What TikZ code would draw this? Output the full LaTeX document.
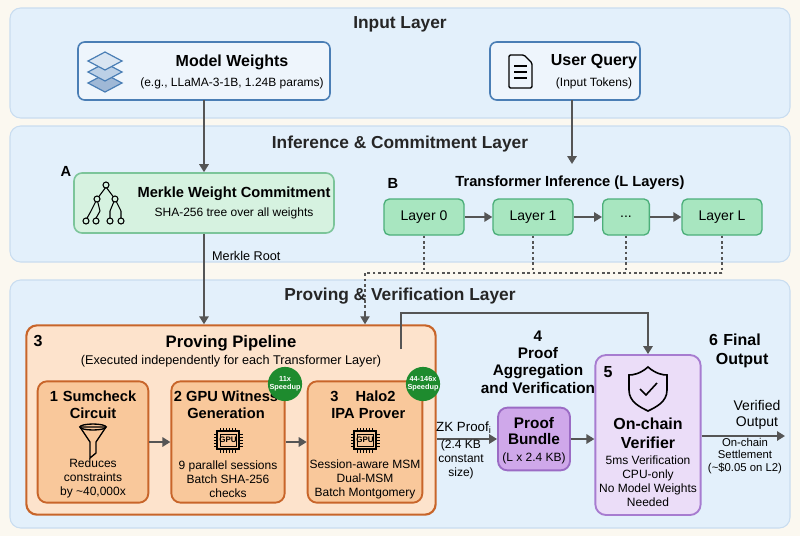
\documentclass[tikz,border=0pt]{standalone}
\usepackage{fontspec}
\setmainfont{Liberation Sans}
\usetikzlibrary{arrows.meta,positioning}
\definecolor{bgc}{HTML}{FBF8F0}
\definecolor{panf}{HTML}{E3F0FB}
\definecolor{pand}{HTML}{C9DDF0}
\definecolor{inf}{HTML}{EEF5FC}
\definecolor{ind}{HTML}{4A7EB5}
\definecolor{lay1}{HTML}{9FB8D6}
\definecolor{lay2}{HTML}{BCD0E6}
\definecolor{lay3}{HTML}{D9E5F2}
\definecolor{grf}{HTML}{D6F2E0}
\definecolor{grd}{HTML}{7CC59A}
\definecolor{lyf}{HTML}{A8E6C0}
\definecolor{lyd}{HTML}{4CAF7A}
\definecolor{orf}{HTML}{FDE3CC}
\definecolor{ord}{HTML}{C8652A}
\definecolor{osf}{HTML}{F9C89B}
\definecolor{puf}{HTML}{CFA8EA}
\definecolor{pud}{HTML}{9B6BC4}
\definecolor{vef}{HTML}{EBDDF8}
\definecolor{vedd}{HTML}{A77CD0}
\definecolor{spd}{HTML}{1E8B2E}
\definecolor{arr}{HTML}{555555}
\tikzset{
 panel/.style={draw=pand,fill=panf,rounded corners=8pt,line width=0.8pt},
 ptitle/.style={font=\bfseries\fontsize{13}{15}\selectfont,text=black!85},
 conn/.style={draw=arr,line width=1.6pt,-{Triangle[length=6pt,width=7pt]}},
 dconn/.style={draw=arr,line width=1pt,dash pattern=on 2pt off 2pt},
 inbox/.style={draw=ind,fill=inf,rounded corners=5pt,line width=1.2pt},
 layer/.style={draw=lyd,fill=lyf,rounded corners=4pt,line width=1pt,minimum width=60pt,minimum height=27pt,font=\fontsize{10.5}{12}\selectfont},
 sub/.style={draw=ord,fill=osf,rounded corners=7pt,line width=1.4pt},
 speed/.style={circle,fill=spd,text=white,inner sep=0pt,minimum size=21pt,align=center,font=\bfseries\fontsize{5.5}{6}\selectfont},
 lbl/.style={align=center,font=\fontsize{9}{10.5}\selectfont},
 hd/.style={align=center,font=\bfseries\fontsize{11}{12.5}\selectfont},
 gpu/.pic={
  \draw[line width=0.9pt,fill=osf] (-11,-9) rectangle (11,9);
  \draw[line width=0.7pt] (-8,-6) rectangle (8,6);
  \node[font=\bfseries\fontsize{6}{6}\selectfont] at (0,0) {GPU};
  \foreach \i in {-7.5,-4.5,-1.5,1.5,4.5,7.5}{\draw[line width=0.6pt] (\i,-9)--(\i,-12.5) (\i,9)--(\i,12.5);}
  \foreach \i in {-6,-3,0,3,6}{\draw[line width=0.6pt] (-11,\i)--(-14.5,\i) (11,\i)--(14.5,\i);}
 }
}
\begin{document}
\begin{tikzpicture}[x=0.75pt,y=-0.75pt]
\fill[bgc] (0,0) rectangle (800,536);
\useasboundingbox (0,0) rectangle (800,536);
% panels
\path[panel] (10,8) rectangle (790,118);
\path[panel] (10,126) rectangle (790,262);
\path[panel] (10,280) rectangle (790,528);
\node[ptitle] (t1) at (400,24) {Input Layer};
\node[ptitle] (t2) at (400,144) {Inference \& Commitment Layer};
\node[ptitle] (t3) at (400,296) {Proving \& Verification Layer};
% input boxes
\path[inbox] (78,42) rectangle (330,100);
\coordinate (mwb) at (204,100);
\node[font=\bfseries\fontsize{12}{14}\selectfont] (mwt) at (232,62) {Model Weights};
\node[font=\fontsize{9}{10}\selectfont] (mws) at (232,83) {(e.g., LLaMA-3-1B, 1.24B params)};
\foreach \dy/\c in {11/lay1,0/lay2,-11/lay3}{
 \draw[ind,line width=0.9pt,fill=\c] (105,72+\dy-9)--(122,72+\dy)--(105,72+\dy+9)--(88,72+\dy)--cycle;}
\path[inbox] (490,42) rectangle (640,100);
\coordinate (uqb) at (572,100);
\node[font=\bfseries\fontsize{12}{14}\selectfont] (uqt) at (594,62) {User Query};
\node[font=\fontsize{9}{10}\selectfont] (uqs) at (594,83) {(Input Tokens)};
\draw[line width=1pt,rounded corners=1pt] (509,55)--(524,55)--(532,63)--(532,88)--(509,88)--cycle;
\draw[line width=0.8pt] (514,66)--(527,66) (514,72)--(527,72) (514,78)--(527,78);
% merkle
\node[draw=grd,fill=grf,rounded corners=6pt,line width=1.2pt,minimum width=195pt,minimum height=45pt] (mk) at (204,203) {};
\node[font=\bfseries\fontsize{11}{12}\selectfont] (lA) at (66,171) {A};
\node[font=\bfseries\fontsize{11}{12}\selectfont] (mkt) at (234,194) {Merkle Weight Commitment};
\node[font=\fontsize{9}{10}\selectfont] (mks) at (234,213) {SHA-256 tree over all weights};
\begin{scope}[line width=0.8pt]
\draw (106,187)--(97,199) (106,187)--(115,199) (97,199)--(91,211) (97,199)--(100,211) (115,199)--(110,211) (115,199)--(121,211);
\draw (91,211)--(86,220) (100,211)--(95,220) (110,211)--(110,220) (121,211)--(121,220);
\foreach \p in {(106,185),(97,199),(115,199)} \filldraw[fill=grf] \p circle (3);
\foreach \p in {(86,221),(96,221),(110,221),(121,221)} \filldraw[fill=grf] \p circle (3);
\end{scope}
% transformer
\node[font=\bfseries\fontsize{11}{12}\selectfont] (lB) at (393,183) {B};
\node[font=\bfseries\fontsize{11}{12.5}\selectfont] (trt) at (570,183) {Transformer Inference (L Layers)};
\node[layer] (L0) at (424,217) {Layer 0};
\node[layer] (L1) at (533,217) {Layer 1};
\node[layer,minimum width=35pt] (Ld) at (626,217) {...};
\node[layer] (LL) at (722,217) {Layer L};
\draw[conn,line width=1.4pt] (L0)--(L1);
\draw[conn,line width=1.4pt] (L1)--(Ld);
\draw[conn,line width=1.4pt] (Ld)--(LL);
% pipeline
\node[draw=ord,fill=orf,rounded corners=8pt,line width=1.6pt,minimum width=307pt,minimum height=142pt] (pp) at (231,420) {};
\node[font=\bfseries\fontsize{12}{13}\selectfont] (p3) at (38,341) {3};
\node[font=\bfseries\fontsize{12.5}{14}\selectfont] (ppt) at (231,343) {Proving Pipeline};
\node[font=\fontsize{9.5}{11}\selectfont] (pps) at (231,361) {(Executed independently for each Transformer Layer)};
\node[sub,minimum width=83pt,minimum height=91pt] (s1) at (93,442) {};
\node[sub,minimum width=85pt,minimum height=91pt] (s2) at (228,442) {};
\node[sub,minimum width=86pt,minimum height=91pt] (s3) at (365,442) {};
\node[hd] (s1t) at (93,405) {1\,\,Sumcheck\\Circuit};
\node[hd] (s2t) at (226,405) {2 GPU Witness\\Generation};
\node[hd] (s3t) at (363,405) {3\quad\,Halo2\\\phantom{3}\,IPA Prover};
\draw[line width=1pt,fill=osf] (80,427)--(106,427)--(96,442)--(96,453)--(90,458)--(90,442)--cycle;
\draw[line width=1pt] (93,427) ellipse (13 and 3);
\pic at (228,440) {gpu};
\pic at (365,440) {gpu};
\node[lbl] (s1x) at (93,478) {Reduces\\constraints\\by \textasciitilde40,000x};
\node[lbl] (s2x) at (228,479) {9 parallel sessions\\Batch SHA-256\\checks};
\node[lbl] (s3x) at (365,479) {Session-aware MSM\\Dual-MSM\\Batch Montgomery};
\node[speed] (sp2) at (285,384) {11x\\Speedup};
\node[speed] (sp3) at (423,384) {44-146x\\Speedup};
\draw[conn] (s1)--(s2);
\draw[conn] (s2)--(s3);
% proof bundle
\node[draw=pud,fill=puf,rounded corners=7pt,line width=1.4pt,minimum width=54pt,minimum height=47pt] (pb) at (534,439) {};
\node[font=\bfseries\fontsize{11.5}{12.5}\selectfont,align=center] (pbt) at (534,431) {Proof\\Bundle};
\node[font=\fontsize{9}{10}\selectfont] (pbs) at (534,458) {(L x 2.4 KB)};
\node[hd,font=\bfseries\fontsize{11.5}{13}\selectfont] (agg) at (538,362) {4\\Proof\\Aggregation\\and Verification};
% verifier
\node[draw=vedd,fill=vef,rounded corners=8pt,line width=1.4pt,minimum width=79pt,minimum height=120pt] (ve) at (648,435) {};
\node[font=\bfseries\fontsize{12}{13}\selectfont] (v5) at (608,372) {5};
\draw[line width=1.2pt] (648,367)..controls (640,374) and (633,375) .. (629,375)--(629,390)..controls (629,402) and (640,407) .. (648,411)..controls (656,407) and (667,402) .. (667,390)--(667,375)..controls (663,375) and (656,374) .. (648,367)--cycle;
\draw[line width=1.2pt] (640,389)--(646,395)--(657,383);
\node[font=\bfseries\fontsize{12}{14}\selectfont,align=center] (vet) at (648,433) {On-chain\\Verifier};
\node[lbl] (ves) at (648,481) {5ms Verification\\CPU-only\\No Model Weights\\Needed};
\node[hd,font=\bfseries\fontsize{12}{14}\selectfont] (fo) at (735,351) {6\,\,Final\\\phantom{6\,\,}Output};
\coordinate (out) at (785,436);
\node[lbl,font=\fontsize{10.5}{12}\selectfont] (vo) at (757,415) {Verified\\Output};
\node[lbl,font=\fontsize{8.5}{9.5}\selectfont] (st) at (745,456) {On-chain\\Settlement\\(\textasciitilde\$0.05 on L2)};
% connectors
\draw[conn] (mwb)--(mk.north-|mwb);
\draw[conn] (uqb)--(572,164);
\draw[conn] (mk.south)--(pp.north-|mk.south) node[pos=0.25,right=2pt,font=\fontsize{9.5}{11}\selectfont] {Merkle Root};
\coordinate (dj) at (365,273);
\draw[dconn] (L0.south)--(L0.south|-dj) (L1.south)--(L1.south|-dj) (Ld.south)--(Ld.south|-dj) (LL.south)--(LL.south|-dj);
\draw[dconn] (LL.south|-dj)--(dj)--(365,312);
\draw[conn,line width=1pt] (365,311)--(pp.north-|dj);
\draw[conn] (401,349)--(401,313)--(648,313)--(ve.north);
\draw[conn] (pp.east|-pb)--(pb.west) node[pos=0.45,above,font=\fontsize{10}{11}\selectfont] {ZK Proof$_\mathrm{i}$};
\node[lbl] (zk) at (461,459) {(2.4 KB\\constant\\size)};
\draw[conn] (pb.east)--(ve.west|-pb);
\draw[conn] (ve.east|-out)--(out);
\end{tikzpicture}
\end{document}
